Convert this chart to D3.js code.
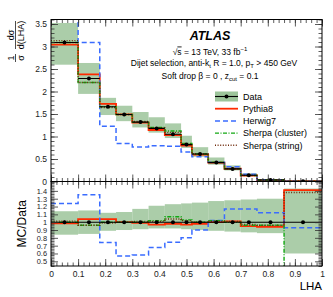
<!DOCTYPE html>
<html>
<head>
<meta charset="utf-8">
<script src="https://cdn.jsdelivr.net/npm/d3@7"></script>
<style>
  body { margin: 0; background: #fff; }
  svg { font-family: "Liberation Sans", Arial, sans-serif; }
  .tick text { fill: #222; font-size: 8.5px; }
  .rat .tick text { font-size: 7.4px; }
</style>
</head>
<body>
<svg id="chart" width="333" height="297"></svg>
<script>
// LHA bin edges and values
const edges = [0, 0.1, 0.18, 0.24, 0.30, 0.36, 0.42, 0.48, 0.52, 0.58, 0.64, 0.70, 0.76, 0.86, 1.0];
const dataVals = [3.09, 2.29, 1.66, 1.49, 1.32, 1.18, 1.05, 0.82, 0.61, 0.42, 0.28, 0.14, 0.035, 0.006];
// data uncertainty band, relative to data
const bandHi = [1.14, 1.15, 1.12, 1.13, 1.17, 1.21, 1.23, 1.24, 1.25, 1.27, 1.28, 1.29, 1.30, 1.43];
const bandLo = [0.84, 0.85, 0.89, 0.90, 0.91, 0.92, 0.92, 0.91, 0.90, 0.89, 0.88, 0.87, 0.86, 0.60];
// MC / data ratios
const pythia = [0.985, 1.04, 1.04, 1.0, 0.99, 0.97, 0.98, 0.97, 0.98, 1.0, 1.01, 0.95, 0.94, 1.41];
const herwig = [1.24, 1.35, 0.74, 0.567, 0.58, 0.675, 0.745, 0.80, 0.90, 1.02, 1.17, 1.17, 1.12, 0.93];
const sherpaC = [1.0, 0.96, 1.0, 1.0, 1.0, 1.02, 1.07, 1.03, 1.0, 1.02, 1.0, 0.96, 0.96, 0.3];
const sherpaS = [1.013, 0.96, 0.99, 1.0, 1.01, 1.01, 1.04, 1.02, 1.0, 1.01, 1.01, 0.97, 0.96, 1.38];

const mcs = [
  {name: 'Pythia8', ratio: pythia, color: '#ff2a00', width: 1.8, dash: null},
  {name: 'Herwig7', ratio: herwig, color: '#3a6cff', width: 1.5, dash: '5,3'},
  {name: 'Sherpa (cluster)', ratio: sherpaC, color: '#12a812', width: 1.4, dash: '4,1.5,1,1.5'},
  {name: 'Sherpa (string)', ratio: sherpaS, color: '#6e2a0a', width: 1.4, dash: '1,1.6'},
];

const svg = d3.select('#chart');
const x = d3.scaleLinear().domain([0, 1]).range([51, 322]);
const yTop = d3.scaleLinear().domain([0, 3.6]).range([181.5, 19.5]);
const yRat = d3.scaleLinear().domain([0.44, 1.52]).range([266, 181.5]);
const fmt = d3.format('~g');

const bins = dataVals.map((v, i) => ({x0: edges[i], x1: edges[i + 1], c: (edges[i] + edges[i + 1]) / 2, v: v, i: i}));

const steps = (vals) => vals.flatMap((v, i) => [[edges[i], v], [edges[i + 1], v]]);

const defs = svg.append('defs');
defs.append('clipPath').attr('id', 'clipTop').append('rect')
  .attr('x', x(0)).attr('y', yTop(3.6)).attr('width', x(1) - x(0)).attr('height', yTop(0) - yTop(3.6));
defs.append('clipPath').attr('id', 'clipRat').append('rect')
  .attr('x', x(0)).attr('y', yRat(1.52)).attr('width', x(1) - x(0)).attr('height', yRat(0.44) - yRat(1.52));

const bandColor = '#9cc49a';

// panels
const panels = [
  {y: yTop, clip: 'clipTop', val: (r, i) => r * dataVals[i], d: (i) => dataVals[i]},
  {y: yRat, clip: 'clipRat', val: (r, i) => r, d: () => 1},
];

panels.forEach((p) => {
  const g = svg.append('g').attr('clip-path', `url(#${p.clip})`);
  g.selectAll('rect.band').data(bins).enter().append('rect')
    .attr('class', 'band')
    .attr('x', (b) => x(b.x0))
    .attr('width', (b) => x(b.x1) - x(b.x0))
    .attr('y', (b) => p.y(p.d(b.i) * bandHi[b.i]))
    .attr('height', (b) => p.y(p.d(b.i) * bandLo[b.i]) - p.y(p.d(b.i) * bandHi[b.i]))
    .attr('fill', bandColor).attr('opacity', 0.85);

  const line = d3.line().x((d) => x(d[0])).y((d) => p.y(d[1]));
  mcs.forEach((m) => {
    g.append('path')
      .attr('d', line(steps(m.ratio.map(p.val))))
      .attr('fill', 'none')
      .attr('stroke', m.color)
      .attr('stroke-width', m.width)
      .attr('stroke-dasharray', m.dash);
  });

  // data
  if (p.clip === 'clipRat') {
    g.append('line')
      .attr('x1', x(0)).attr('x2', x(1))
      .attr('y1', p.y(1)).attr('y2', p.y(1))
      .attr('stroke', '#000').attr('stroke-width', 1.1);
  } else {
    g.selectAll('line.dx').data(bins).enter().append('line')
      .attr('x1', (b) => x(b.x0)).attr('x2', (b) => x(b.x1))
      .attr('y1', (b) => p.y(b.v)).attr('y2', (b) => p.y(b.v))
      .attr('stroke', '#000').attr('stroke-width', 1.1);
  }
  g.selectAll('circle').data(bins).enter().append('circle')
    .attr('cx', (b) => x(b.c))
    .attr('cy', (b) => p.y(p.d(b.i)))
    .attr('r', 2)
    .attr('fill', '#000');
});

// axes with inside ticks
function frameAxes(y, yMajor, yMinor, showXLabels, cls) {
  const top = y.range()[1], bot = y.range()[0];
  const xMaj = x.ticks(10), xMin = x.ticks(50);
  const addAxis = (gen, tr) => {
    const a = svg.append('g').attr('class', cls).attr('transform', tr).call(gen);
    a.select('.domain').remove();
    a.selectAll('line').attr('stroke', '#333').attr('stroke-width', 0.8);
    return a;
  };
  addAxis(d3.axisBottom(x).tickValues(xMin).tickSize(-3.5).tickFormat(''), `translate(0,${bot})`);
  const xa = addAxis(d3.axisBottom(x).tickValues(xMaj).tickSize(-7).tickPadding(5)
    .tickFormat(showXLabels ? fmt : ''), `translate(0,${bot})`);
  xa.selectAll('text').style('font-size', '8.5px');
  addAxis(d3.axisTop(x).tickValues(xMin).tickSize(-3.5).tickFormat(''), `translate(0,${top})`);
  addAxis(d3.axisTop(x).tickValues(xMaj).tickSize(-7).tickFormat(''), `translate(0,${top})`);

  addAxis(d3.axisLeft(y).tickValues(yMinor).tickSize(-3.5).tickFormat(''), `translate(${x(0)},0)`);
  addAxis(d3.axisLeft(y).tickValues(yMajor).tickSize(-7).tickPadding(4).tickFormat(fmt), `translate(${x(0)},0)`);
  addAxis(d3.axisRight(y).tickValues(yMinor).tickSize(-3.5).tickFormat(''), `translate(${x(1)},0)`);
  addAxis(d3.axisRight(y).tickValues(yMajor).tickSize(-7).tickFormat(''), `translate(${x(1)},0)`);

  svg.append('rect')
    .attr('x', x(0)).attr('y', top)
    .attr('width', x(1) - x(0)).attr('height', bot - top)
    .attr('fill', 'none').attr('stroke', '#000').attr('stroke-width', 1);
}

frameAxes(yTop, yTop.ticks(7), yTop.ticks(36), false, 'top');
const ratMaj = yRat.ticks(10).filter((v) => v >= 0.5 && v <= 1.4);
frameAxes(yRat, ratMaj, yRat.ticks(54), true, 'rat');

// labels
svg.append('text')
  .attr('x', x(1)).attr('y', 290)
  .attr('text-anchor', 'end')
  .attr('font-size', 11.5)
  .text('LHA');

svg.append('text')
  .attr('transform', `translate(26,${yRat(0.98)}) rotate(-90)`)
  .attr('text-anchor', 'middle')
  .attr('font-size', 12)
  .text('MC/Data');

const yt = svg.append('g').attr('transform', 'translate(15.5,43) rotate(-90)')
  .attr('font-size', 9).attr('text-anchor', 'middle');
yt.append('text').attr('x', -15).attr('y', -2).text('1');
yt.append('text').attr('x', -15).attr('y', 8).text('σ');
yt.append('line').attr('x1', -19).attr('x2', -11).attr('y1', 0).attr('y2', 0).attr('stroke', '#000').attr('stroke-width', 0.7);
yt.append('text').attr('x', 8).attr('y', -2).text('dσ');
yt.append('text').attr('x', 8).attr('y', 8).text('d(LHA)');
yt.append('line').attr('x1', -6).attr('x2', 22).attr('y1', 0).attr('y2', 0).attr('stroke', '#000').attr('stroke-width', 0.7);

// ATLAS labels
const cx = 210;
svg.append('text').attr('x', cx).attr('y', 39.5).attr('text-anchor', 'middle')
  .attr('font-size', 12.5).attr('font-weight', 'bold').attr('font-style', 'italic').text('ATLAS');
const l2 = svg.append('text').attr('x', cx).attr('y', 54.5).attr('text-anchor', 'middle').attr('font-size', 8.5);
l2.append('tspan').text('√');
l2.append('tspan').attr('text-decoration', 'overline').text('s');
l2.append('tspan').text(' = 13 TeV, 33 fb');
l2.append('tspan').attr('dy', -3.5).attr('font-size', 6).text('−1');
const l3 = svg.append('text').attr('x', cx + 4).attr('y', 66).attr('text-anchor', 'middle').attr('font-size', 8.5);
l3.append('tspan').text('Dijet selection, anti-k');
l3.append('tspan').attr('dy', 2).attr('font-size', 6).text('t');
l3.append('tspan').attr('dy', -2).text(' R = 1.0, p');
l3.append('tspan').attr('dy', 2).attr('font-size', 6).text('T');
l3.append('tspan').attr('dy', -2).text(' > 450 GeV');
const l4 = svg.append('text').attr('x', cx).attr('y', 79).attr('text-anchor', 'middle').attr('font-size', 8.5);
l4.append('tspan').text('Soft drop β = 0 , z');
l4.append('tspan').attr('dy', 2).attr('font-size', 6).text('cut');
l4.append('tspan').attr('dy', -2).text(' = 0.1');

// legend
const lg = svg.append('g').attr('font-size', 9);
const lx0 = 215, lx1 = 238, ly0 = 96.5, ldy = 12.2;
const entries = [{name: 'Data'}].concat(mcs);
entries.forEach((e, i) => {
  const yy = ly0 + i * ldy;
  if (i === 0) {
    lg.append('rect').attr('x', lx0).attr('y', yy - 5).attr('width', lx1 - lx0).attr('height', 10).attr('fill', bandColor);
    lg.append('line').attr('x1', lx0).attr('x2', lx1).attr('y1', yy).attr('y2', yy).attr('stroke', '#000').attr('stroke-width', 1.1);
    lg.append('circle').attr('cx', (lx0 + lx1) / 2).attr('cy', yy).attr('r', 2).attr('fill', '#000');
  } else {
    lg.append('line').attr('x1', lx0).attr('x2', lx1).attr('y1', yy).attr('y2', yy)
      .attr('stroke', e.color).attr('stroke-width', e.width).attr('stroke-dasharray', e.dash);
  }
  lg.append('text').attr('x', lx1 + 5).attr('y', yy + 3.2).text(e.name);
});
</script>
</body>
</html>
